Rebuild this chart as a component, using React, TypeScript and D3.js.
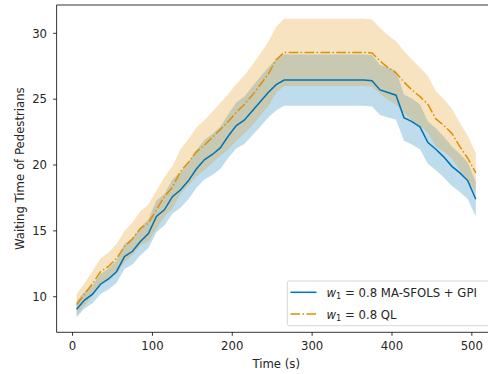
import React from "react";
import * as d3 from "d3";

const times = [5, 15, 25, 35, 45, 55, 65, 75, 85, 95, 105, 115, 125, 135, 145, 155, 165, 175, 185, 195, 205, 215, 225, 235, 245, 255, 265, 275, 285, 295, 305, 315, 325, 335, 345, 355, 365, 375, 385, 395, 405, 415, 425, 435, 445, 455, 465, 475, 485, 495, 505];

const blueMean = [9.05, 9.75, 10.2, 10.95, 11.35, 11.9, 13.05, 13.45, 14.2, 14.8, 16.1, 16.6, 17.6, 18.1, 18.8, 19.7, 20.4, 20.8, 21.3, 22.2, 23.0, 23.4, 24.1, 24.8, 25.5, 26.1, 26.45, 26.45, 26.45, 26.45, 26.45, 26.45, 26.45, 26.45, 26.45, 26.45, 26.45, 26.4, 25.7, 25.5, 25.3, 23.6, 23.3, 22.9, 21.7, 21.2, 20.6, 19.9, 19.4, 18.8, 17.4];

const blueSd = [0.6, 0.65, 0.7, 0.75, 0.8, 0.85, 0.95, 1.0, 1.05, 1.1, 1.2, 1.2, 1.3, 1.35, 1.4, 1.45, 1.5, 1.55, 1.6, 1.65, 1.75, 1.8, 1.85, 1.9, 1.9, 1.95, 1.95, 1.95, 1.95, 1.95, 1.95, 1.95, 1.95, 1.95, 1.95, 1.95, 1.95, 1.95, 1.9, 1.9, 1.85, 1.75, 1.75, 1.7, 1.6, 1.6, 1.55, 1.5, 1.45, 1.4, 1.3];

const orangeMean = [9.4, 10.2, 11.0, 11.9, 12.3, 12.9, 13.8, 14.4, 15.2, 15.6, 16.6, 17.6, 18.3, 19.5, 20.2, 21.0, 21.5, 22.1, 22.7, 23.3, 24.0, 24.6, 25.3, 26.1, 26.9, 28.0, 28.55, 28.55, 28.55, 28.55, 28.55, 28.55, 28.55, 28.55, 28.55, 28.55, 28.55, 28.5, 27.9, 27.4, 27.0, 26.3, 25.7, 25.2, 24.6, 23.5, 23.0, 22.4, 21.4, 20.5, 19.4];

const orangeSd = [0.8, 0.85, 0.95, 1.0, 1.05, 1.1, 1.2, 1.25, 1.3, 1.4, 1.45, 1.5, 1.6, 1.7, 1.75, 1.85, 1.9, 1.95, 2.0, 2.1, 2.15, 2.2, 2.3, 2.35, 2.45, 2.5, 2.55, 2.55, 2.55, 2.55, 2.55, 2.55, 2.55, 2.55, 2.55, 2.55, 2.55, 2.55, 2.5, 2.45, 2.4, 2.35, 2.3, 2.2, 2.15, 2.1, 2.0, 1.9, 1.8, 1.7, 1.5];

const xTicks = [0, 100, 200, 300, 400, 500];
const yTicks = [10, 15, 20, 25, 30];

const BLUE = "#0173b2";
const ORANGE = "#de8f05";
const FONT = "DejaVu Sans, sans-serif";
const FS = 11.7;

export default function App() {
  const W = 488, H = 374;
  const left = 56.6, right = 495.8, top = 5, bottom = 332.3;
  const x = d3.scaleLinear().domain([-20, 530]).range([left, right]);
  const y = d3.scaleLinear().domain([7.3, 32.15]).range([bottom, top]);

  const idx = times.map((_, i) => i);
  const area = (mean: number[], sd: number[]) =>
    d3.area<number>()
      .x((i) => x(times[i]))
      .y0((i) => y(mean[i] - sd[i]))
      .y1((i) => y(mean[i] + sd[i]))(idx) || "";
  const line = (mean: number[]) =>
    d3.line<number>().x((i) => x(times[i])).y((i) => y(mean[i]))(idx) || "";

  return (
    <svg width={W} height={H} style={{ position: "absolute", left: 0, top: 0, display: "block" }} fontFamily={FONT}>
      <rect x={0} y={0} width={W} height={H} fill="#fff" />
      <defs>
        <clipPath id="plotclip">
          <rect x={left} y={top} width={right - left} height={bottom - top} />
        </clipPath>
      </defs>
      <g clipPath="url(#plotclip)">
        <path d={area(blueMean, blueSd)} fill={BLUE} fillOpacity={0.25} />
        <path d={area(orangeMean, orangeSd)} fill={ORANGE} fillOpacity={0.25} />
        <path d={line(blueMean)} fill="none" stroke={BLUE} strokeWidth={1.5} />
        <path d={line(orangeMean)} fill="none" stroke={ORANGE} strokeWidth={1.5} strokeDasharray="9.6,2.4,1.5,2.4" />
      </g>
      {/* spines */}
      <line x1={left} x2={left} y1={top} y2={bottom} stroke="#000" strokeWidth={0.8} />
      <line x1={left} x2={right} y1={bottom} y2={bottom} stroke="#000" strokeWidth={0.8} />
      <line x1={left} x2={right} y1={top} y2={top} stroke="#000" strokeWidth={0.8} />
      <line x1={right} x2={right} y1={top} y2={bottom} stroke="#000" strokeWidth={0.8} />
      {/* x ticks */}
      {xTicks.map((t) => (
        <g key={"x" + t}>
          <line x1={x(t)} x2={x(t)} y1={bottom} y2={bottom + 3.5} stroke="#000" strokeWidth={0.8} />
          <text x={x(t)} y={350} fontSize={FS} textAnchor="middle" fill="#262626">{t}</text>
        </g>
      ))}
      {/* y ticks */}
      {yTicks.map((t) => (
        <g key={"y" + t}>
          <line x1={left - 3.5} x2={left} y1={y(t)} y2={y(t)} stroke="#000" strokeWidth={0.8} />
          <text x={47} y={y(t) + 4.2} fontSize={FS} textAnchor="end" fill="#262626">{t}</text>
        </g>
      ))}
      <text x={(left + right) / 2} y={367.5} fontSize={FS} textAnchor="middle" fill="#262626">Time (s)</text>
      <text transform={`translate(23.5,${(top + bottom) / 2}) rotate(-90)`} fontSize={FS} textAnchor="middle" fill="#262626">Waiting Time of Pedestrians</text>
      {/* legend */}
      <rect x={287.3} y={281} width={203.5} height={44.7} rx={2} ry={2} fill="#fff" fillOpacity={0.8} stroke="#cccccc" strokeWidth={0.8} />
      <line x1={290.5} x2={316.5} y1={292.3} y2={292.3} stroke={BLUE} strokeWidth={1.5} />
      <line x1={290.5} x2={316.5} y1={314} y2={314} stroke={ORANGE} strokeWidth={1.5} strokeDasharray="9.6,2.4,1.5,2.4" />
      <text x={326.5} y={296.8} fontSize={FS} fill="#262626">
        <tspan fontStyle="italic">w</tspan>
        <tspan fontSize={8.2} dy={2.2}>1</tspan>
        <tspan dy={-2.2}>{" = 0.8 MA-SFOLS + GPI"}</tspan>
      </text>
      <text x={326.5} y={318.8} fontSize={FS} fill="#262626">
        <tspan fontStyle="italic">w</tspan>
        <tspan fontSize={8.2} dy={2.2}>1</tspan>
        <tspan dy={-2.2}>{" = 0.8 QL"}</tspan>
      </text>
    </svg>
  );
}
